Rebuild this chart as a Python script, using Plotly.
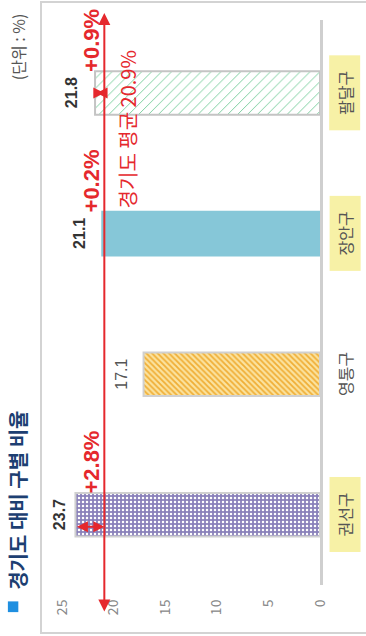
import plotly.graph_objects as go

# 구별 비율 (단위: %) — 경기도 평균 대비
districts = ["권선구", "영통구", "장안구", "팔달구"]
rates = [23.7, 17.1, 21.1, 21.8]
gyeonggi_avg = 20.9
value_ticks = [0, 5, 10, 15, 20, 25]

title_text = "경기도 대비 구별 비율"
unit_text = "(단위 : %)"
avg_text = f"경기도 평균 {gyeonggi_avg}%"

# per-district styling
bar_bg = ["#8a81ba", "#fbe3a0", "#86c7d8", "#ffffff"]
bar_fg = ["#ffffff", "#f0ae35", "#86c7d8", "#7ccfa0"]
bar_shape = [".", "\\", "", "/"]
bar_size = [4, 4, 8, 7]
bar_solid = [0.3, 0.45, 0.3, 0.14]
bar_line = ["#d0d0d0", "#d0d0d0", "#86c7d8", "#c4c4c4"]
label_bg = ["#f7f1a6", "rgba(0,0,0,0)", "#f7f1a6", "#f7f1a6"]
value_bold = [True, False, True, True]
value_shift = [-16, -22, -23, -24]
arrow_shift = [-12, 0, -14, 0]

RED = "#e5282d"
KR = "Noto Sans CJK KR"
NUM = "Liberation Sans"

fig = go.Figure()
for i, (d, v) in enumerate(zip(districts, rates)):
    fig.add_trace(go.Bar(
        y=[d], x=[v], orientation="h", width=0.31,
        marker=dict(
            color=bar_bg[i],
            line=dict(color=bar_line[i], width=2),
            pattern=dict(shape=bar_shape[i], fgcolor=bar_fg[i], bgcolor=bar_bg[i],
                         size=bar_size[i], solidity=bar_solid[i], fillmode="replace"),
        ),
        hoverinfo="skip", showlegend=False,
    ))

ann = []
# value labels, category badges and gaps to the average
for i, (d, v) in enumerate(zip(districts, rates)):
    ann.append(dict(
        x=v, y=d, xref="x", yref="y", text=f"{v}", showarrow=False,
        textangle=-90, xanchor="center", yanchor="middle", xshift=value_shift[i],
        font=dict(family=NUM, size=16, color="#333333" if value_bold[i] else "#555555",
                  weight="bold" if value_bold[i] else "normal"),
    ))
    ann.append(dict(
        x=1.09, y=d, xref="paper", yref="y", text=d, showarrow=False,
        textangle=-90, xanchor="center", yanchor="middle",
        bgcolor=label_bg[i], width=66, height=22, borderpad=4,
        font=dict(family=KR, size=16, color="#555555"),
    ))
    diff = round(v - gyeonggi_avg, 1)
    if diff > 0:
        ann.append(dict(
            x=gyeonggi_avg, y=d, xref="x", yref="y", ax=v, axref="x", ay=0, ayref="pixel",
            text="", showarrow=True, arrowside="end+start", arrowhead=2,
            arrowsize=1.1, arrowwidth=2, arrowcolor=RED, yshift=arrow_shift[i],
            standoff=0, startstandoff=0,
        ))
        ann.append(dict(
            x=gyeonggi_avg, y=d, xref="x", yref="y", text=f"+{diff}%", showarrow=False,
            textangle=-90, xanchor="center", yanchor="bottom", xshift=-13, yshift=19,
            font=dict(family=NUM, size=22, color=RED, weight="bold"),
        ))

# Gyeonggi average line
ann.append(dict(
    x=gyeonggi_avg, y=1.0124, xref="x", yref="y domain",
    ax=gyeonggi_avg, ay=-0.0496, axref="x", ayref="y domain",
    text="", showarrow=True, arrowside="end+start", arrowhead=2,
    arrowsize=1.2, arrowwidth=2, arrowcolor=RED,
))
ann.append(dict(
    x=gyeonggi_avg, y=0.807, xref="x", yref="paper", text=avg_text, showarrow=False,
    textangle=-90, xanchor="center", yanchor="middle", xshift=23,
    font=dict(family=KR, size=20, color=RED),
))
# unit and title
ann.append(dict(
    x=-0.098, y=0.952, xref="paper", yref="paper", text=unit_text, showarrow=False,
    textangle=-90, xanchor="center", yanchor="middle",
    font=dict(family=KR, size=16, color="#555555"),
))
ann.append(dict(
    x=-0.1, y=-0.012, xref="paper", yref="paper", text=title_text, showarrow=False,
    textangle=-90, xanchor="center", yanchor="bottom",
    font=dict(family=KR, size=20, color="#1d3f72", weight="bold"),
))

shapes = [
    # outer frame
    dict(type="rect", xref="paper", yref="paper", x0=-0.0145, x1=1.2, y0=-0.085, y1=1.032,
         line=dict(color="#d3d3d3", width=2), fillcolor="rgba(0,0,0,0)", layer="below"),
    # title bullet
    dict(type="rect", xref="paper", yref="paper", x0=-0.135, x1=-0.097, y0=-0.048, y1=-0.029,
         line=dict(width=0), fillcolor="#1f8fe0"),
]

fig.update_layout(
    width=366, height=636, autosize=False,
    margin=dict(l=45, r=46, t=20, b=51),
    paper_bgcolor="white", plot_bgcolor="white",
    annotations=ann, shapes=shapes, barmode="overlay",
    xaxis=dict(range=[26.65, 0], tickvals=value_ticks, tickangle=-90,
               showgrid=False, zeroline=False, showline=False,
               ticks="outside", ticklen=8, tickcolor="rgba(0,0,0,0)",
               tickfont=dict(family=KR, size=14, color="#888888"), fixedrange=True),
    yaxis=dict(type="category", categoryorder="array", categoryarray=districts,
               range=[-0.5, 3.52], side="right", showticklabels=False,
               showgrid=False, zeroline=False, showline=True,
               linecolor="#cfcfcf", linewidth=3, ticks="", fixedrange=True),
)

fig.write_html("out.html")
